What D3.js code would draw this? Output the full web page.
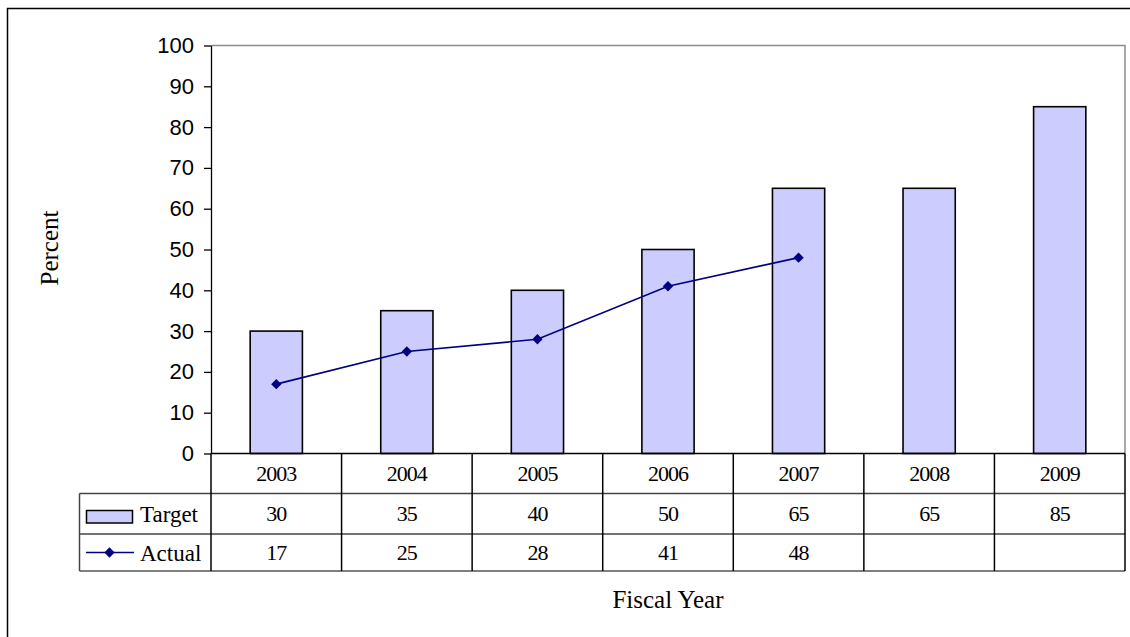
<!DOCTYPE html>
<html>
<head>
<meta charset="utf-8">
<script src="https://cdn.jsdelivr.net/npm/d3@7"></script>
<style>
  html, body { margin: 0; padding: 0; background: #fff; }
  svg { display: block; }
</style>
</head>
<body>
<svg id="chart" width="1130" height="637"></svg>
<script>
// Fiscal years and the two series shown in the chart and its data table
const years = ["2003", "2004", "2005", "2006", "2007", "2008", "2009"];
const targetValues = [30, 35, 40, 50, 65, 65, 85];
const actualValues = [17, 25, 28, 41, 48, null, null];
const yTicks = [0, 10, 20, 30, 40, 50, 60, 70, 80, 90, 100];

const svg = d3.select("#chart");
const plot = { left: 211, right: 1125, top: 45.5, bottom: 453.5 };
const tableLeft = 79.5;
const rowBottoms = [493.5, 534, 571];

const serif = "'Liberation Serif', 'Times New Roman', serif";
const sans = "'Liberation Sans', Arial, sans-serif";

// Outer frame (only top and left edges fall inside the canvas)
svg.append("path")
  .attr("d", "M7.5,640 V8.5 H1135")
  .attr("fill", "none").attr("stroke", "#000").attr("stroke-width", 1.5);

const x = d3.scaleBand().domain(years).range([plot.left, plot.right]).paddingInner(0).paddingOuter(0);
const y = d3.scaleLinear().domain([0, 100]).range([plot.bottom, plot.top]);

// Plot area frame (grey top and right edges)
svg.append("path")
  .attr("d", `M${plot.left},${plot.top} H${plot.right} V${plot.bottom}`)
  .attr("fill", "none").attr("stroke", "#8c8c8c").attr("stroke-width", 1.5);

// Target bars
const barW = x.bandwidth() * 0.4;
svg.append("g").selectAll("rect")
  .data(years.map((yr, i) => ({ yr, v: targetValues[i] })))
  .join("rect")
  .attr("x", d => x(d.yr) + (x.bandwidth() - barW) / 2)
  .attr("y", d => y(d.v))
  .attr("width", barW)
  .attr("height", d => y(0) - y(d.v))
  .attr("fill", "#ccccff")
  .attr("stroke", "#000").attr("stroke-width", 1.6);

// Y axis
const yAxis = svg.append("g")
  .attr("transform", `translate(${plot.left},0)`)
  .call(d3.axisLeft(y).tickValues(yTicks).tickSize(7).tickPadding(10).tickSizeOuter(0));
yAxis.select(".domain").attr("stroke", "#000").attr("stroke-width", 1.3);
yAxis.selectAll(".tick line").attr("stroke", "#000").attr("stroke-width", 1.3);
yAxis.selectAll(".tick text")
  .attr("font-family", sans).attr("font-size", 22).attr("fill", "#000");

// Actual line with diamond markers
const actualPts = years.map((yr, i) => ({ yr, v: actualValues[i] })).filter(d => d.v !== null);
const cx = d => x(d.yr) + x.bandwidth() / 2;
svg.append("path")
  .datum(actualPts)
  .attr("d", d3.line().x(cx).y(d => y(d.v)))
  .attr("fill", "none").attr("stroke", "#000080").attr("stroke-width", 1.7);
const diamond = d3.symbol().type(d3.symbolDiamond2).size(68);
svg.append("g").selectAll("path")
  .data(actualPts)
  .join("path")
  .attr("d", diamond)
  .attr("transform", d => `translate(${cx(d)},${y(d.v)})`)
  .attr("fill", "#000080");

// Data table beneath the plot
const tbl = svg.append("g");
// Horizontal rules
tbl.append("line").attr("x1", plot.left).attr("x2", plot.right)
  .attr("y1", plot.bottom).attr("y2", plot.bottom).attr("stroke", "#000").attr("stroke-width", 1.5);
rowBottoms.forEach((yy, i) => {
  tbl.append("line")
    .attr("x1", tableLeft).attr("x2", plot.right)
    .attr("y1", yy).attr("y2", yy)
    .attr("stroke", i === 2 ? "#555" : "#444").attr("stroke-width", 1.5);
});
// Vertical rules
const colEdges = years.map(yr => x(yr)).concat([plot.right]);
colEdges.forEach(xx => {
  tbl.append("line").attr("x1", xx).attr("x2", xx)
    .attr("y1", plot.bottom).attr("y2", rowBottoms[2])
    .attr("stroke", "#000").attr("stroke-width", 1.5);
});
tbl.append("line").attr("x1", tableLeft).attr("x2", tableLeft)
  .attr("y1", rowBottoms[0]).attr("y2", rowBottoms[2])
  .attr("stroke", "#444").attr("stroke-width", 1.5);

const rowMid = [
  (plot.bottom + rowBottoms[0]) / 2,
  (rowBottoms[0] + rowBottoms[1]) / 2,
  (rowBottoms[1] + rowBottoms[2]) / 2
];
const cellText = (txt, xx, yy) => tbl.append("text")
  .attr("x", xx).attr("y", yy).attr("dy", "0.35em")
  .attr("text-anchor", "middle")
  .attr("font-family", serif).attr("font-size", 22)
  .attr("letter-spacing", "-1px")
  .attr("fill", "#000").text(txt);

years.forEach((yr, i) => {
  const mx = x(yr) + x.bandwidth() / 2;
  cellText(yr, mx, rowMid[0]);
  cellText(String(targetValues[i]), mx, rowMid[1]);
  if (actualValues[i] !== null) cellText(String(actualValues[i]), mx, rowMid[2]);
});

// Legend keys in the table's first column
tbl.append("rect")
  .attr("x", 86.5).attr("y", 510.5).attr("width", 46).attr("height", 12.5)
  .attr("fill", "#ccccff").attr("stroke", "#000").attr("stroke-width", 1.5);
tbl.append("text").attr("x", 140).attr("y", rowMid[1]).attr("dy", "0.35em")
  .attr("font-family", serif).attr("font-size", 23).attr("fill", "#000").text("Target");
tbl.append("line").attr("x1", 86).attr("x2", 134)
  .attr("y1", rowMid[2]).attr("y2", rowMid[2])
  .attr("stroke", "#000080").attr("stroke-width", 1.7);
tbl.append("path").attr("d", diamond)
  .attr("transform", `translate(109.5,${rowMid[2]})`).attr("fill", "#000080");
tbl.append("text").attr("x", 140).attr("y", rowMid[2]).attr("dy", "0.35em")
  .attr("font-family", serif).attr("font-size", 23).attr("fill", "#000").text("Actual");

// Axis titles
svg.append("text")
  .attr("transform", "translate(49,248) rotate(-90)")
  .attr("text-anchor", "middle").attr("dy", "0.35em")
  .attr("font-family", serif).attr("font-size", 25).attr("fill", "#000")
  .text("Percent");
svg.append("text")
  .attr("x", 668).attr("y", 599).attr("dy", "0.35em")
  .attr("text-anchor", "middle")
  .attr("font-family", serif).attr("font-size", 25).attr("fill", "#000")
  .text("Fiscal Year");
</script>
</body>
</html>
